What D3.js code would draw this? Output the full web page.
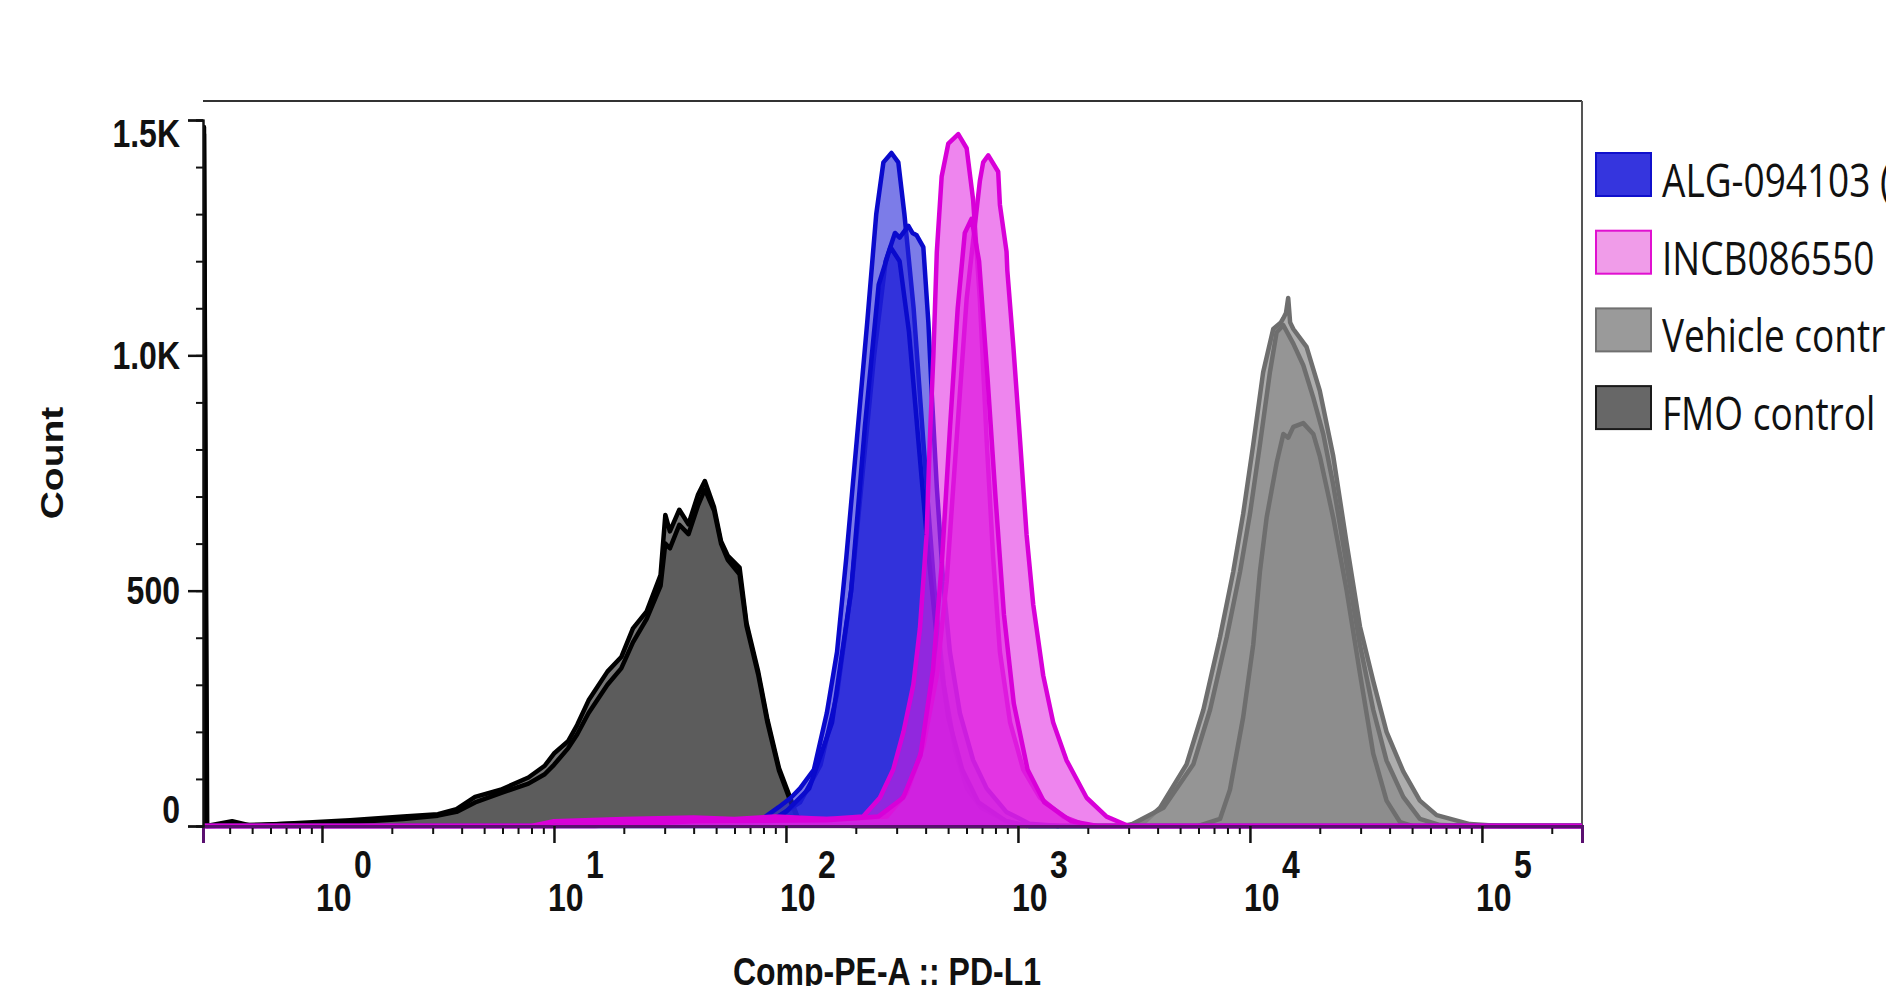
<!DOCTYPE html>
<html>
<head>
<meta charset="utf-8">
<script src="https://cdn.jsdelivr.net/npm/d3@7"></script>
<style>
  body { margin: 0; background: #fff; }
  svg { display: block; }
</style>
</head>
<body>
<div id="chart"></div>
<script>
// histogram traces: [channel value, count]
const fmoA = [[0.307,0],[0.31,1485],[0.318,0],[0.41,10],[0.5,0],[0.66,4],[1.32,12],[2.24,20],[3.16,25],[3.8,36],[4.57,62],[5.89,77],[7.76,103],[9.12,128],[10,154],[11.5,180],[12.6,215],[14.1,267],[17,328],[19.5,359],[21.9,420],[25.1,456],[28.8,533],[30.2,661],[31.6,626],[34.7,672],[38,641],[41.7,703],[44.7,733],[49,677],[52.5,605],[56.2,574],[63.1,549],[67.6,431],[75.9,328],[83.2,226],[93.3,123],[105,56],[112,20],[130,5],[200,0],[270000,0]];
const fmoB = [[0.307,0],[0.31,1470],[0.32,0],[1.32,8],[2.24,15],[3.16,22],[3.8,30],[4.57,50],[5.89,70],[7.76,90],[9.12,110],[10,130],[11.5,165],[12.6,195],[14.1,240],[17,300],[19.5,335],[21.9,390],[25.1,440],[28.8,510],[30.2,600],[31.6,590],[34.7,640],[38,620],[41.7,680],[44.7,715],[49,670],[52.5,600],[56.2,565],[63.1,535],[67.6,425],[75.9,322],[83.2,220],[93.3,118],[105,50],[112,18],[130,4],[200,0],[270000,0]];

const vehA = [[0.307,0],[2800,0],[3500,8],[4100,39],[5330,131],[6300,247],[7430,401],[8470,540],[9350,663],[10330,810],[11400,964],[12600,1056],[13600,1070],[13930,1079],[14300,1090],[14620,1122],[14900,1070],[15380,1056],[17540,1018],[20000,925],[22860,786],[26100,601],[29800,424],[34000,308],[38800,200],[45800,116],[54000,54],[63800,23],[88700,4],[120000,0],[270000,0]];
const vehB = [[3000,0],[4240,39],[5700,131],[6730,247],[7940,401],[9060,540],[10000,663],[11040,810],[12190,964],[13030,1049],[13930,1064],[15380,1025],[16980,979],[18750,910],[20700,833],[22860,725],[26100,555],[29800,385],[34000,247],[38800,139],[45800,62],[54000,15],[66000,2],[90000,0]];
const vehC = [[6000,0],[7430,15],[8200,77],[9350,231],[10330,385],[11040,540],[11800,655],[13030,771],[13930,833],[14620,825],[15380,848],[16980,856],[18750,833],[20000,786],[22860,655],[26100,501],[29800,324],[34000,154],[38800,54],[44400,8],[50000,0]];

const algA = [[0.307,0],[60,0],[79,15],[93,40],[105,60],[115,80],[132,120],[150,240],[166,370],[182,570],[202,820],[224,1070],[245,1300],[263,1410],[285,1430],[305,1410],[324,1300],[355,1100],[380,900],[407,700],[437,500],[479,300],[537,160],[603,80],[692,40],[891,10],[1120,0],[270000,0]];
const algB = [[70,0],[89,15],[115,50],[141,130],[166,280],[191,500],[214,750],[240,1000],[269,1200],[295,1260],[309,1250],[337,1275],[351,1260],[366,1255],[391,1230],[411,1070],[425,920],[447,720],[476,520],[509,370],[562,240],[641,140],[733,80],[891,30],[1120,5],[1500,0]];
const algC = [[80,0],[100,30],[126,80],[158,220],[191,500],[219,850],[251,1150],[282,1230],[309,1200],[339,1050],[372,820],[407,600],[447,400],[501,230],[575,120],[676,50],[891,10],[1100,0]];

const incA = [[0.307,0],[8,0],[10,10],[20,15],[40,18],[60,15],[90,20],[150,15],[215,20],[254,60],[290,120],[321,200],[354,300],[378,420],[404,620],[417,820],[432,1000],[447,1220],[469,1380],[501,1450],[553,1470],[601,1440],[641,1330],[685,1120],[733,820],[782,570],[836,370],[925,220],[1054,120],[1245,60],[1567,20],[2000,0],[270000,0]];
const incB = [[0.307,0],[10,0],[30,12],[80,15],[180,15],[272,20],[331,70],[391,170],[447,320],[493,520],[526,720],[562,920],[601,1120],[685,1370],[708,1410],[745,1425],[822,1390],[836,1320],[893,1220],[900,1180],[955,1020],[1021,820],[1089,620],[1164,470],[1285,320],[1419,220],[1618,140],[1977,60],[2410,20],[3000,0],[270000,0]];
const incC = [[0.307,0],[15,0],[40,10],[150,12],[250,20],[320,60],[380,150],[430,330],[470,560],[510,850],[550,1100],[590,1260],[631,1290],[680,1200],[740,950],[800,700],[870,450],[960,260],[1100,120],[1300,50],[1700,10],[2200,0],[270000,0]];

const legendLabels = ['ALG-094103 (', 'INCB086550', 'Vehicle control', 'FMO control'];
const legendFills = ['#3535de', '#f09ce9', '#9a9a9a', '#676767'];
const legendStrokes = ['#1010cc', '#e010d0', '#707070', '#1a1a1a'];

const yTickValues = [0, 500, 1000, 1500];
const yTickLabels = ['0', '500', '1.0K', '1.5K'];
const xDecades = [1, 10, 100, 1000, 10000, 100000];
const xExponents = ['0', '1', '2', '3', '4', '5'];

const width = 1886;
const height = 986;
const plot = {left: 203, right: 1582, top: 101, bottom: 826};

const svg = d3.select('#chart').append('svg')
  .attr('width', width)
  .attr('height', height);

svg.append('rect').attr('width', width).attr('height', height).attr('fill', '#fff');

const x = d3.scaleLog().domain([0.307, 270000]).range([plot.left, plot.right]);
const y = d3.scaleLinear().domain([0, 1500]).range([plot.bottom, 120]);

svg.append('clipPath').attr('id', 'plotclip')
  .append('rect')
  .attr('x', plot.left).attr('y', plot.top)
  .attr('width', plot.right - plot.left).attr('height', plot.bottom - plot.top + 4);

// frame
svg.append('line')
  .attr('x1', plot.left).attr('x2', plot.right)
  .attr('y1', plot.top).attr('y2', plot.top)
  .attr('stroke', '#333').attr('stroke-width', 2);
svg.append('line')
  .attr('x1', plot.right).attr('x2', plot.right)
  .attr('y1', plot.top).attr('y2', plot.bottom)
  .attr('stroke', '#555').attr('stroke-width', 2);

const area = d3.area()
  .x(d => x(d[0]))
  .y0(y(0))
  .y1(d => y(d[1]));
const line = d3.line()
  .x(d => x(d[0]))
  .y(d => y(d[1]));

const groups = [
  {traces: [fmoA, fmoB], fill: '#555555', opacity: 0.8, stroke: '#000'},
  {traces: [vehA, vehB, vehC], fill: '#8a8a8a', opacity: 0.7, stroke: '#6e6e6e'},
  {traces: [algA, algB, algC], fill: '#2424d8', opacity: 0.6, stroke: '#0a0acc'},
  {traces: [incA, incB, incC], fill: '#e020e0', opacity: 0.55, stroke: '#d800d8'}
];

const histG = svg.append('g').attr('clip-path', 'url(#plotclip)');

groups.forEach(grp => {
  grp.traces.forEach(t => {
    histG.append('path')
      .attr('d', area(t))
      .attr('fill', grp.fill)
      .attr('fill-opacity', grp.opacity);
    histG.append('path')
      .attr('d', line(t))
      .attr('fill', 'none')
      .attr('stroke', grp.stroke)
      .attr('stroke-width', 4.5)
      .attr('stroke-linejoin', 'round');
  });
});

// axes
const minorX = x.ticks().filter(v => xDecades.indexOf(v) < 0);

const xMinor = svg.append('g')
  .attr('transform', `translate(0, ${plot.bottom})`)
  .call(d3.axisBottom(x).tickValues(minorX).tickSize(8).tickFormat(''));
const xMajor = svg.append('g')
  .attr('transform', `translate(0, ${plot.bottom})`)
  .call(d3.axisBottom(x).tickValues(xDecades).tickSize(17).tickFormat(''));

const yMinor = svg.append('g')
  .attr('transform', `translate(${plot.left}, 0)`)
  .call(d3.axisLeft(y).tickValues(d3.range(0, 1501, 100)).tickSize(7).tickFormat(''));
const yMajor = svg.append('g')
  .attr('transform', `translate(${plot.left}, 0)`)
  .call(d3.axisLeft(y).tickValues(yTickValues).tickSize(15).tickFormat(''));

[xMinor, xMajor, yMinor, yMajor].forEach(a => {
  a.selectAll('.tick line').attr('stroke', '#111').attr('stroke-width', 2.5);
  a.select('.domain').attr('stroke', '#111').attr('stroke-width', 2);
});
xMinor.selectAll('.tick line').attr('stroke-width', 2);
yMinor.selectAll('.tick line').attr('stroke-width', 2);
// baseline reads dark purple where the magenta tails sit on the axis
xMinor.select('.domain').attr('stroke', '#5a1070').attr('stroke-width', 3);
xMajor.select('.domain').attr('stroke', '#5a1070').attr('stroke-width', 3);

function stretchText(parent, px, py, str, size, anchor, sx, sy, rot) {
  return parent.append('text')
    .attr('transform', `translate(${px},${py})` + (rot ? ` rotate(${rot})` : '') + ` scale(${sx},${sy})`)
    .attr('text-anchor', anchor)
    .style('font-family', '"Liberation Sans", Arial, sans-serif')
    .style('font-weight', 'bold')
    .style('font-size', size + 'px')
    .attr('fill', '#111')
    .text(str);
}

// y tick labels (top one sits under its tick, bottom one above)
const yShift = {0: -3, 500: 13.5, 1000: 13.5, 1500: 27};
yTickValues.forEach((v, i) => {
  stretchText(svg, 180, y(v) + yShift[v], yTickLabels[i], 32, 'end', 1, 1.22);
});

// x tick labels 10^n
xDecades.forEach((v, i) => {
  stretchText(svg, x(v) - 6, 911, '10', 32, 'start', 1, 1.22);
  stretchText(svg, x(v) + 32, 878, xExponents[i], 32, 'start', 1, 1.22);
});

stretchText(svg, 887, 985, 'Comp-PE-A :: PD-L1', 32, 'middle', 1, 1.22);
stretchText(svg, 63, 463, 'Count', 32, 'middle', 1.22, 1, -90);

// legend
const legend = svg.append('g').attr('class', 'legend');
legendLabels.forEach((lab, i) => {
  const ly = 153 + i * 77.7;
  legend.append('rect')
    .attr('x', 1596).attr('y', ly)
    .attr('width', 55).attr('height', 43)
    .attr('fill', legendFills[i])
    .attr('stroke', legendStrokes[i])
    .attr('stroke-width', 2);
  legend.append('text')
    .attr('transform', `translate(1662,${ly + 44}) scale(1,1.22)`)
    .style('font-family', '"Open Sans", "Noto Sans", sans-serif')
    .style('font-size', '37px')
    .attr('fill', '#111')
    .text(lab);
});
</script>
</body>
</html>
